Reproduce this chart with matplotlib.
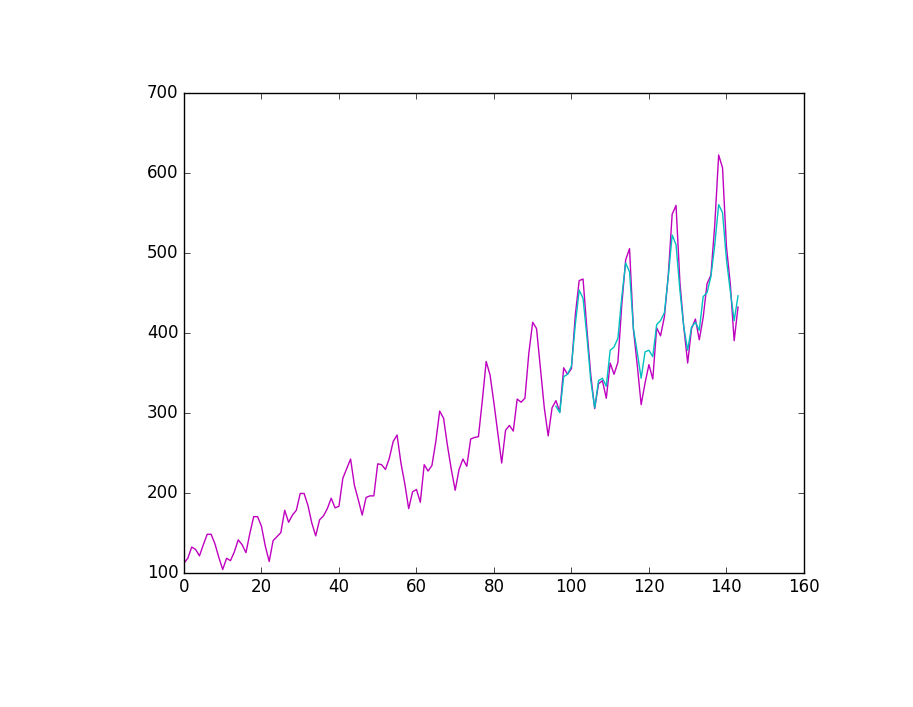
import matplotlib
matplotlib.use("Agg")
import matplotlib.pyplot as plt

PASSENGERS = [
    112, 118, 132, 129, 121, 135, 148, 148, 136, 119, 104, 118,
    115, 126, 141, 135, 125, 149, 170, 170, 158, 133, 114, 140,
    145, 150, 178, 163, 172, 178, 199, 199, 184, 162, 146, 166,
    171, 180, 193, 181, 183, 218, 230, 242, 209, 191, 172, 194,
    196, 196, 236, 235, 229, 243, 264, 272, 237, 211, 180, 201,
    204, 188, 235, 227, 234, 264, 302, 293, 259, 229, 203, 229,
    242, 233, 267, 269, 270, 315, 364, 347, 312, 274, 237, 278,
    284, 277, 317, 313, 318, 374, 413, 405, 355, 306, 271, 306,
    315, 301, 356, 348, 355, 422, 465, 467, 404, 347, 305, 336,
    340, 318, 362, 348, 363, 435, 491, 505, 404, 359, 310, 337,
    360, 342, 406, 396, 420, 472, 548, 559, 463, 407, 362, 405,
    417, 391, 419, 461, 472, 535, 622, 606, 508, 461, 390, 432,
]

PRED_START = 96
PREDICTED = [
    308, 300, 345, 348, 358, 410, 453, 443, 395, 340, 306, 340,
    343, 333, 378, 382, 393, 445, 487, 476, 405, 375, 343, 376,
    378, 370, 410, 415, 425, 470, 522, 510, 453, 407, 378, 407,
    413, 403, 445, 450, 470, 510, 560, 550, 492, 452, 415, 446,
]


def main():
    plt.style.use("classic")
    fig = plt.figure(figsize=(9.13, 7.07), dpi=100)
    ax = fig.add_axes([0.2015, 0.19, 0.679, 0.679])
    ax.plot(range(len(PASSENGERS)), PASSENGERS, color="m")
    ax.plot(range(PRED_START, PRED_START + len(PREDICTED)), PREDICTED, color="c")
    ax.set_xlim(0, 160)
    ax.set_ylim(100, 700)
    fig.savefig("out.png", dpi=100, facecolor="white")


if __name__ == "__main__":
    main()
